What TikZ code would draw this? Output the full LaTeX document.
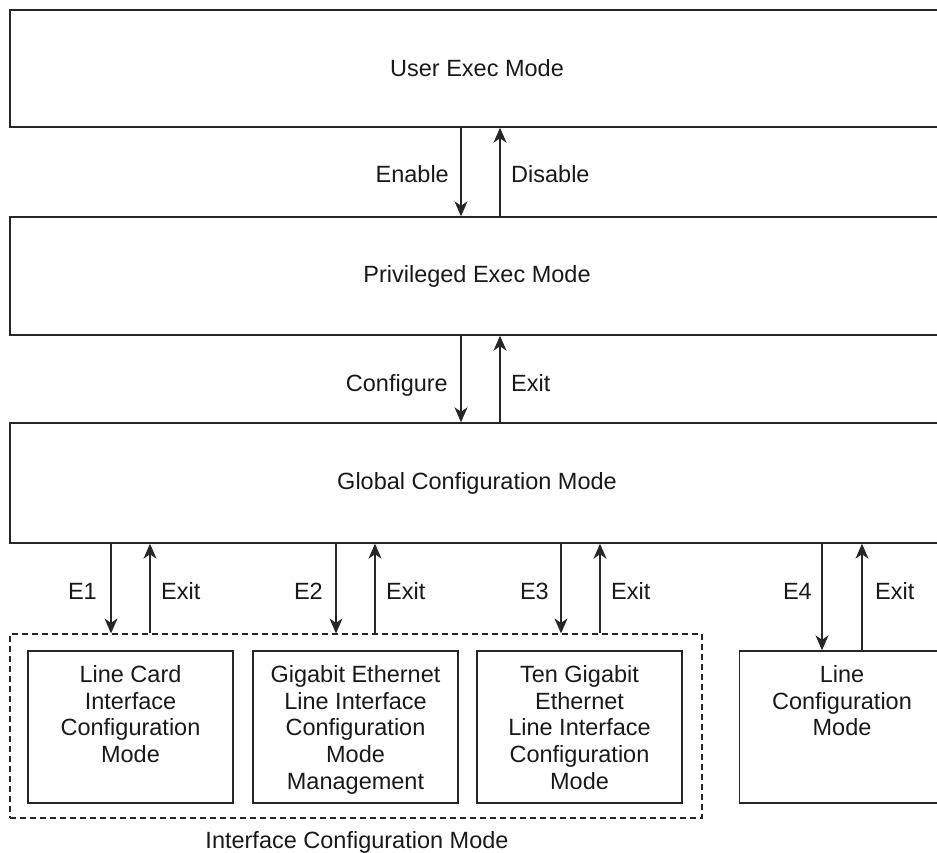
\documentclass[tikz,border=0pt]{standalone}
\usepackage{fontspec}
\setmainfont{Liberation Sans}
\usetikzlibrary{arrows.meta}
\begin{document}
\begin{tikzpicture}[x=1pt,y=-1pt,
  txt/.style={font=\fontsize{23.5}{26.7}\selectfont, text=black!90},
  bigbox/.style={txt, draw=black!85, line width=1.4pt, minimum width=934pt},
  modebox/.style={draw=black!85, line width=1.4pt, minimum width=205pt, minimum height=152pt},
  boxtext/.style={txt, align=center, inner sep=0pt, anchor=north},
  lbl/.style={txt, inner sep=0pt},
  arr/.style={line width=1.2pt, draw=black!85, -{Stealth[length=15pt,width=13pt,inset=4.5pt]}},
  dashbox/.style={draw=black!85, line width=1.2pt, dash pattern=on 6pt off 4pt}
]
\useasboundingbox (0,0) rectangle (937,853);

% main mode boxes
\node[bigbox, minimum height=117pt] (user) at (477,68.5) {User Exec Mode};
\node[bigbox, minimum height=118pt] (priv) at (477,276) {Privileged Exec Mode};
\node[bigbox, minimum height=120pt] (glob) at (477,483) {Global Configuration Mode};

% interface group
\node[dashbox, minimum width=692pt, minimum height=184pt] (iface) at (356,726) {};
\node[modebox] (lc)  at (130.5,727) {};
\node[modebox] (ge)  at (355.5,727) {};
\node[modebox] (tge) at (579.5,727) {};
\node[modebox] (lcm) at (842,727) {};

\node[boxtext] (lct)  at ([yshift=-15pt]lc.north)  {Line Card\\Interface\\Configuration\\Mode};
\node[boxtext] (get)  at ([yshift=-15pt]ge.north)  {Gigabit Ethernet\\Line Interface\\Configuration\\Mode\\Management};
\node[boxtext] (tget) at ([yshift=-15pt]tge.north) {Ten Gigabit\\Ethernet\\Line Interface\\Configuration\\Mode};
\node[boxtext] (lcmt) at ([yshift=-15pt]lcm.north) {Line\\Configuration\\Mode};

\node[lbl, anchor=base] (ifl) at (357,848) {Interface Configuration Mode};

% arrows between main modes
\path ([xshift=-16pt]user.south) coordinate (a1) ([xshift=23pt]user.south) coordinate (a2);
\draw[arr] (a1) -- (a1 |- priv.north);
\draw[arr] (a2 |- priv.north) -- (a2);
\path ([xshift=-16pt]priv.south) coordinate (b1) ([xshift=23pt]priv.south) coordinate (b2);
\draw[arr] (b1) -- (b1 |- glob.north);
\draw[arr] (b2 |- glob.north) -- (b2);

% arrows to sub modes
\path ([xshift=-19.5pt]lc.north) coordinate (d1) ([xshift=19.5pt]lc.north) coordinate (u1);
\path ([xshift=-19.5pt]ge.north) coordinate (d2) ([xshift=19.5pt]ge.north) coordinate (u2);
\path ([xshift=-18.5pt]tge.north) coordinate (d3) ([xshift=20.5pt]tge.north) coordinate (u3);
\path ([xshift=-20pt]lcm.north) coordinate (d4) ([xshift=20pt]lcm.north) coordinate (u4);
\draw[arr] (d1 |- glob.south) -- (d1 |- iface.north);
\draw[arr] (u1 |- iface.north) -- (u1 |- glob.south);
\draw[arr] (d2 |- glob.south) -- (d2 |- iface.north);
\draw[arr] (u2 |- iface.north) -- (u2 |- glob.south);
\draw[arr] (d3 |- glob.south) -- (d3 |- iface.north);
\draw[arr] (u3 |- iface.north) -- (u3 |- glob.south);
\draw[arr] (d4 |- glob.south) -- (d4);
\draw[arr] (u4) -- (u4 |- glob.south);

% labels
\node[lbl, anchor=base east] (len) at (449,183) {Enable};
\node[lbl, anchor=base west] (ldis) at (511,183) {Disable};
\node[lbl, anchor=base east] (lcfg) at (448,391) {Configure};
\node[lbl, anchor=base west] (lex0) at (511,391) {Exit};
\node[lbl, anchor=base east] (le1) at (97,599) {E1};
\node[lbl, anchor=base west] (lx1) at (161,599) {Exit};
\node[lbl, anchor=base east] (le2) at (323,599) {E2};
\node[lbl, anchor=base west] (lx2) at (386,599) {Exit};
\node[lbl, anchor=base east] (le3) at (549,599) {E3};
\node[lbl, anchor=base west] (lx3) at (611,599) {Exit};
\node[lbl, anchor=base east] (le4) at (812,599) {E4};
\node[lbl, anchor=base west] (lx4) at (875,599) {Exit};
\end{tikzpicture}
\end{document}
